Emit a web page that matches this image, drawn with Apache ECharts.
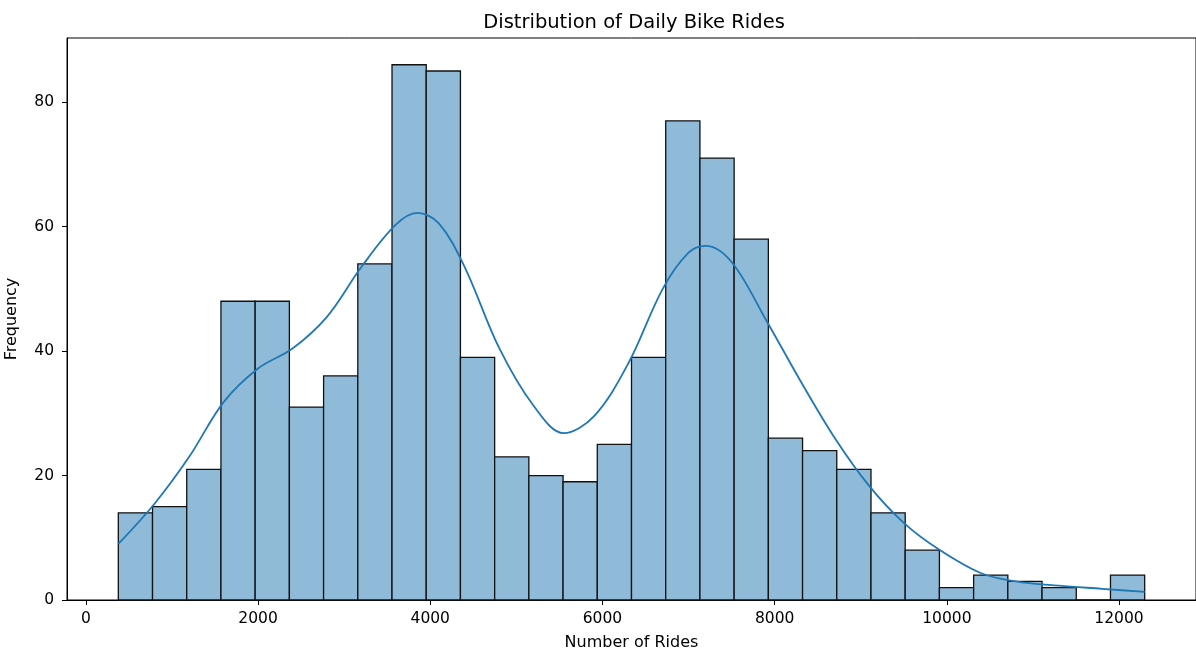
<!DOCTYPE html>
<html>
<head>
<meta charset="utf-8">
<script src="https://cdn.jsdelivr.net/npm/echarts@6/dist/echarts.min.js"></script>
<style>html,body{margin:0;padding:0;background:#fff}#c{width:1196px;height:655px}</style>
</head>
<body>
<div id="c"></div>
<script>
// Histogram: 30 equal-width bins between binMin and binMax
const binMin = 377;
const binMax = 12298;
const counts = [14, 15, 21, 48, 48, 31, 36, 54, 86, 85, 39, 23, 20, 19, 25, 39, 77, 71, 58, 26, 24, 21, 14, 8, 2, 4, 3, 2, 0, 4];
// KDE curve: rides -> frequency
const kdeX = [377, 800, 1200, 1600, 2000, 2400, 2800, 3200, 3600, 3850, 4100, 4400, 4800, 5200, 5550, 5900, 6300, 6700, 7000, 7200, 7500, 7900, 8300, 8700, 9100, 9500, 9900, 10400, 10800, 11300, 11800, 12298];
const kdeY = [9.0, 15.5, 23.0, 31.8, 37.2, 40.4, 45.5, 53.5, 60.3, 62.2, 60.5, 53.5, 40.5, 31.2, 26.8, 29.5, 38.0, 50.0, 55.8, 56.9, 54.3, 45.0, 35.2, 26.0, 18.3, 12.4, 8.2, 4.3, 3.0, 2.3, 1.8, 1.3];
const xTicks = [0, 2000, 4000, 6000, 8000, 10000, 12000];
const yTicks = [0, 20, 40, 60, 80];

const nb = counts.length;
const bw = (binMax - binMin) / nb;
const binData = counts.map((c, i) => [binMin + i * bw, binMin + (i + 1) * bw, c]);
const kdeData = kdeX.map((x, i) => [x, kdeY[i]]);

const font = 'DejaVu Sans';
const chart = echarts.init(document.getElementById('c'), null, {renderer: 'canvas'});
chart.setOption({
  animation: false,
  backgroundColor: '#fff',
  title: {
    text: 'Distribution of Daily Bike Rides',
    left: 629, top: 8, textAlign: 'center',
    textStyle: {fontFamily: font, fontSize: 19.5, fontWeight: 'normal', color: '#000'}
  },
  grid: {left: 67, top: 38, width: 1129, height: 562, outerBoundsMode: 'none', containLabel: false,
         show: true, borderColor: '#000', borderWidth: 1, backgroundColor: 'transparent'},
  xAxis: {
    type: 'value', min: -219, max: 12894,
    name: 'Number of Rides', nameLocation: 'middle', nameGap: 35,
    nameTextStyle: {fontFamily: font, fontSize: 16, color: '#000'},
    splitLine: {show: false},
    axisLine: {show: true, onZero: false, lineStyle: {color: '#000', width: 1}},
    axisTick: {show: true, length: 5, lineStyle: {color: '#000'}, customValues: xTicks},
    axisLabel: {fontFamily: font, fontSize: 15.5, color: '#000', margin: 11, customValues: xTicks,
                formatter: v => String(v)}
  },
  yAxis: {
    type: 'value', min: 0, max: 90.3,
    name: 'Frequency', nameLocation: 'middle', nameGap: 47,
    nameTextStyle: {fontFamily: font, fontSize: 16, color: '#000'},
    splitLine: {show: false},
    axisLine: {show: true, onZero: false, lineStyle: {color: '#000', width: 1}},
    axisTick: {show: true, length: 5, lineStyle: {color: '#000'}, customValues: yTicks},
    axisLabel: {fontFamily: font, fontSize: 15.5, color: '#000', margin: 13, customValues: yTicks,
                formatter: v => String(v)}
  },
  series: [
    {
      type: 'custom',
      data: binData,
      encode: {x: [0, 1], y: 2},
      renderItem: function (params, api) {
        const p0 = api.coord([api.value(0), api.value(2)]);
        const p1 = api.coord([api.value(1), 0]);
        return {
          type: 'rect',
          shape: {x: p0[0], y: p0[1], width: p1[0] - p0[0], height: p1[1] - p0[1]},
          style: {fill: '#8fbbd9', stroke: '#111', lineWidth: 1.3}
        };
      },
      z: 2
    },
    {
      type: 'line',
      data: kdeData,
      smooth: 0.35,
      showSymbol: false,
      lineStyle: {color: '#1f77b4', width: 1.8},
      z: 3
    }
  ]
});
</script>
</body>
</html>
